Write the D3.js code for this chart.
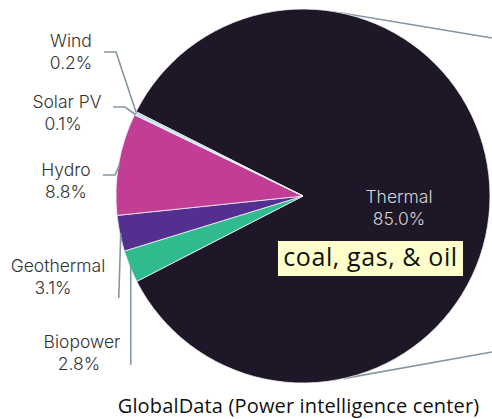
<!DOCTYPE html>
<html><head><meta charset="utf-8">
<script src="https://cdn.jsdelivr.net/npm/d3@7"></script>
<style>body{margin:0;background:#fff;}svg{display:block;}</style>
</head><body>
<svg id="c" width="492" height="419"></svg>
<script>
const categories = ["Thermal", "Biopower", "Geothermal", "Hydro", "Solar PV", "Wind"];
const shares = [85.0, 2.8, 3.1, 8.8, 0.1, 0.2];
const shareLabels = ["85.0%", "2.8%", "3.1%", "8.8%", "0.1%", "0.2%"];
const colors = ["#1e1727", "#2fbb8d", "#53308f", "#c13d96", "#8fd0e0", "#a9dde8"];

const svg = d3.select("#c");
const W = 492, cx = 303, cy = 196, R = 187;
const start = -63.2 * Math.PI / 180;
const pie = d3.pie().sort(null).value(d => d.v).startAngle(start).endAngle(start + 2 * Math.PI);
const data = categories.map((c, i) => ({c, v: shares[i], l: shareLabels[i], col: colors[i]}));
const arcs = pie(data);
const arc = d3.arc().innerRadius(0).outerRadius(R);
const g = svg.append("g").attr("transform", `translate(${cx},${cy})`);

const pt = (a, r) => [r * Math.sin(a), -r * Math.cos(a)];
const lineCol = "#8596a3";
// thermal leader lines (toward a secondary chart outside the frame)
[[11 * Math.PI / 180, -158], [(180 - 12.4) * Math.PI / 180, 156]].forEach(([a, dy]) => {
  const p = pt(a, R);
  g.append("line").attr("x1", p[0]).attr("y1", p[1]).attr("x2", W - cx).attr("y2", dy)
    .attr("stroke", lineCol).attr("stroke-width", 1.6);
});

g.selectAll("path.s").data(arcs).join("path").attr("class", "s")
  .attr("d", arc).attr("fill", d => d.data.col)
  .attr("stroke", "#f4f0f6").attr("stroke-width", 0.8);

const labelSpec = {
  "Wind":      {x: 71, y: 47, dx2: 0, path: [[104, 52], [116, 52]]},
  "Solar PV":  {x: 67, y: 108, dx2: -4, path: [[113, 107], [125, 107]]},
  "Hydro":     {x: 66, y: 176, dx2: 0, path: [[103, 175], [115, 175]]},
  "Geothermal":{x: 58, y: 272, dx2: -5, path: [[117, 298]]},
  "Biopower":  {x: 82, y: 348, dx2: -3, path: [[130, 365]]}
};
arcs.slice(1).forEach(a => {
  const s = labelSpec[a.data.c];
  const m = (a.startAngle + a.endAngle) / 2;
  const p = pt(m, R - 1);
  const pts = s.path.map(q => [q[0], q[1]]).concat([[p[0] + cx, p[1] + cy]]);
  if (s.path.length === 1) pts[0] = [p[0] + cx - (a.data.c === "Geothermal" ? 2 : 0), s.path[0][1]];
  svg.append("path").attr("d", d3.line()(pts)).attr("fill", "none")
    .attr("stroke", lineCol).attr("stroke-width", 1.6);
  const t = svg.append("text").attr("font-family", "Inter, sans-serif").attr("font-size", 17.5)
    .attr("font-weight", 300).attr("fill", "#333").attr("text-anchor", "middle");
  t.append("tspan").attr("x", s.x).attr("y", s.y).text(a.data.c);
  t.append("tspan").attr("x", s.x + s.dx2).attr("y", s.y + 22).text(a.data.l);
});

const tt = svg.append("text").attr("font-family", "Inter, sans-serif").attr("font-size", 17.5)
  .attr("font-weight", 300).attr("fill", "#d6d4da").attr("text-anchor", "middle");
tt.append("tspan").attr("x", 399).attr("y", 203).text(data[0].c);
tt.append("tspan").attr("x", 399).attr("y", 225).text(data[0].l);

svg.append("rect").attr("x", 278).attr("y", 241).attr("width", 185).attr("height", 35).attr("fill", "#ffffcc");
svg.append("text").attr("x", 370.5).attr("y", 266).attr("text-anchor", "middle")
  .attr("font-family", "'Open Sans', sans-serif").attr("font-size", 25).attr("letter-spacing", 0.6).attr("fill", "#111")
  .text("coal, gas, & oil");

svg.append("text").attr("x", 298.5).attr("y", 413).attr("text-anchor", "middle")
  .attr("font-family", "'Open Sans', sans-serif").attr("font-size", 20).attr("letter-spacing", 0.15).attr("fill", "#111")
  .text("GlobalData (Power intelligence center)");
</script>
</body></html>
